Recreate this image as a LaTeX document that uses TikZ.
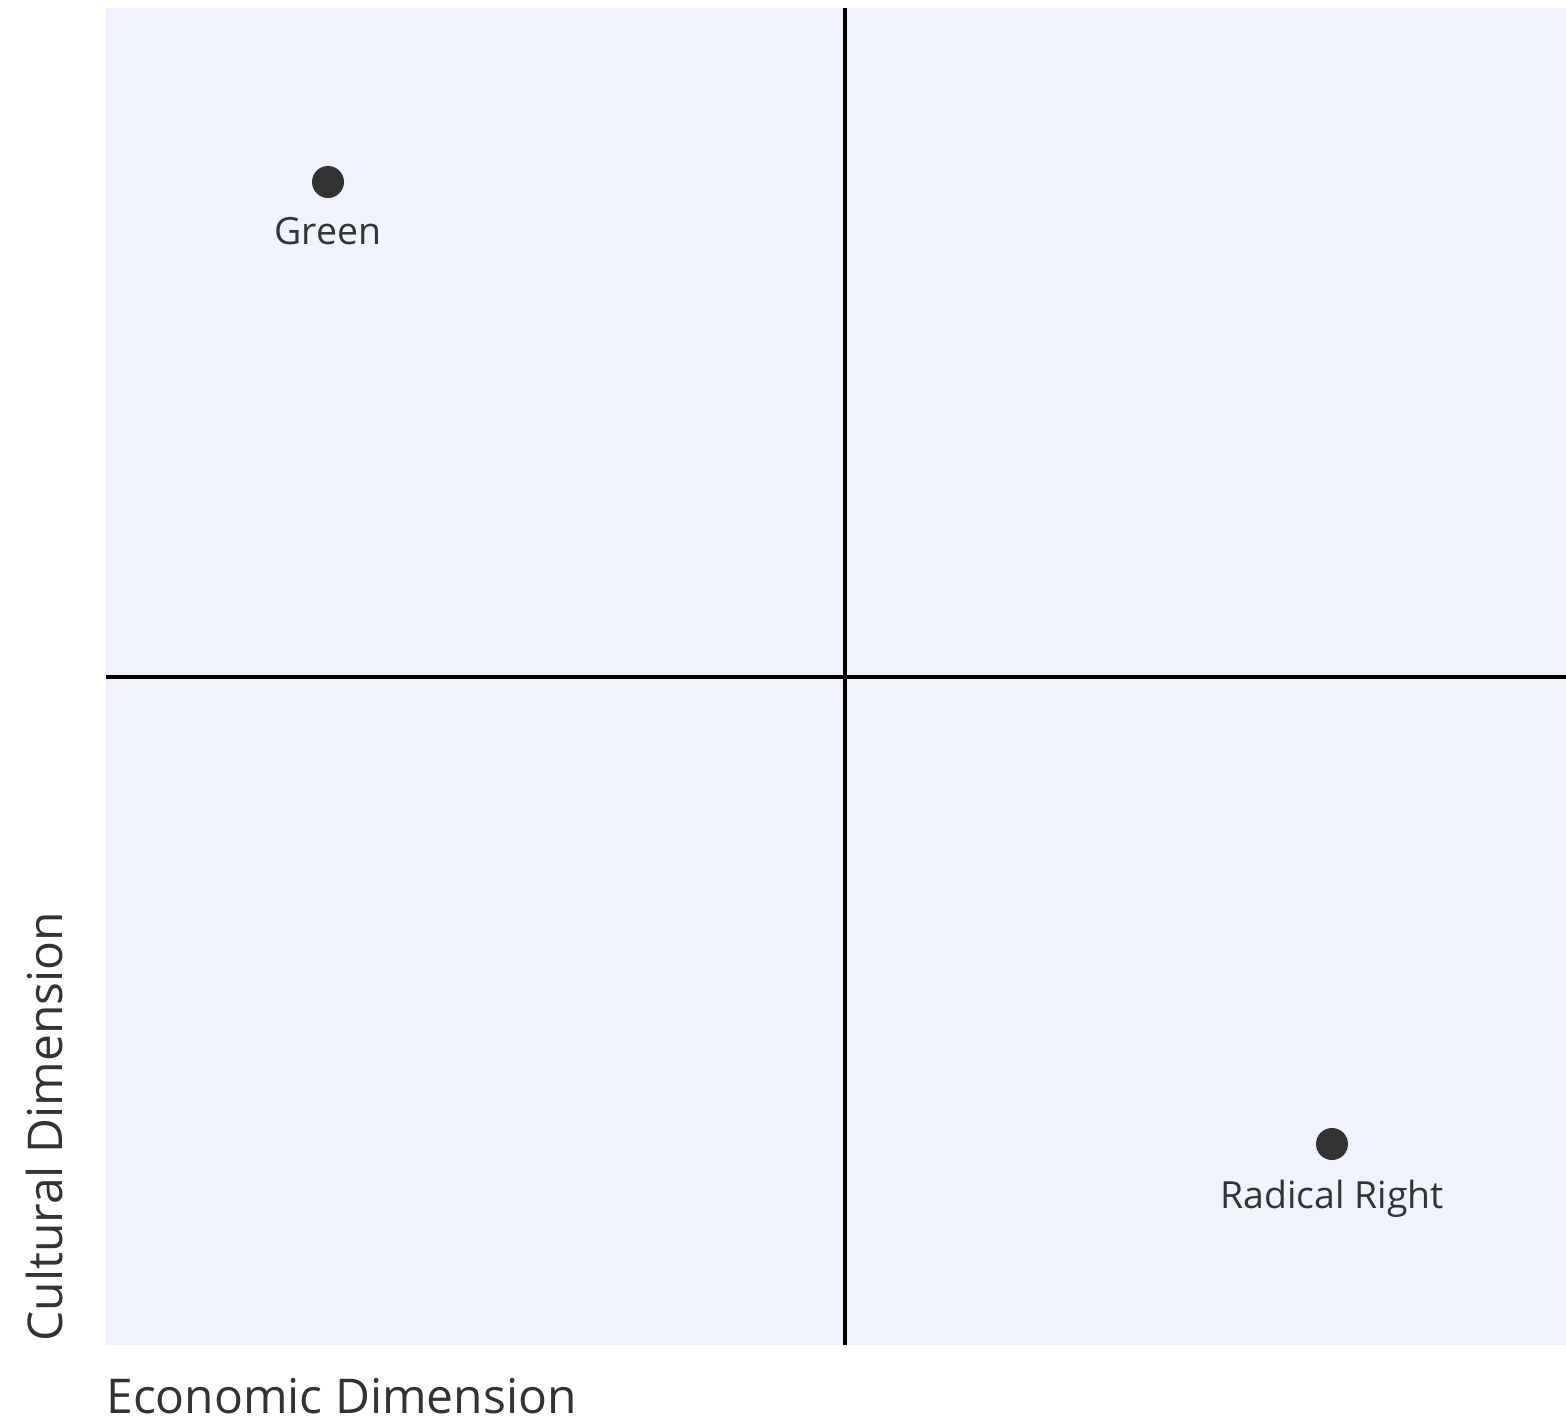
\documentclass[tikz,border=0pt]{standalone}
\usepackage{fontspec}
\setmainfont{Open Sans}
\usepackage{tikz}
\usetikzlibrary{positioning}
\definecolor{QFill}{RGB}{238,243,254}
\definecolor{DGray}{RGB}{51,51,51}
\tikzset{quad/.style={fill=QFill,draw=none},
  axisline/.style={line width=2.8pt,black},
  pt/.style={circle,fill=DGray,inner sep=0pt,minimum size=32*0.02cm},
  ptlabel/.style={text=DGray,font=\fontsize{21.3}{25}\selectfont,inner sep=0pt},
  axlabel/.style={text=DGray,font=\fontsize{27.3}{32}\selectfont,inner sep=0pt}}

\begin{document}
\begin{tikzpicture}[x=0.02cm,y=-0.02cm]
\useasboundingbox (0,0) rectangle (1566,1424);
\fill[quad] (106,8) rectangle (1566,1345);

\coordinate (top) at (845,8);
\coordinate (bottom) at (845,1345);
\coordinate (left) at (106,677);
\coordinate (right) at (1566,677);
\draw[axisline] (top) -- (bottom);
\draw[axisline] (left) -- (right);

\node[pt] (green) at (328,182) {};
\node[ptlabel,below=19*0.02cm of green] (greenlbl) {Green};

\node[pt] (radright) at (1332,1144) {};
\node[ptlabel,below=19*0.02cm of radright] (radrightlbl) {Radical Right};

\node[axlabel,anchor=base west] (econ) at (106,1413) {Economic Dimension};
\node[axlabel,anchor=base west,rotate=90] (cult) at (62,1342) {Cultural Dimension};
\end{tikzpicture}
\end{document}
